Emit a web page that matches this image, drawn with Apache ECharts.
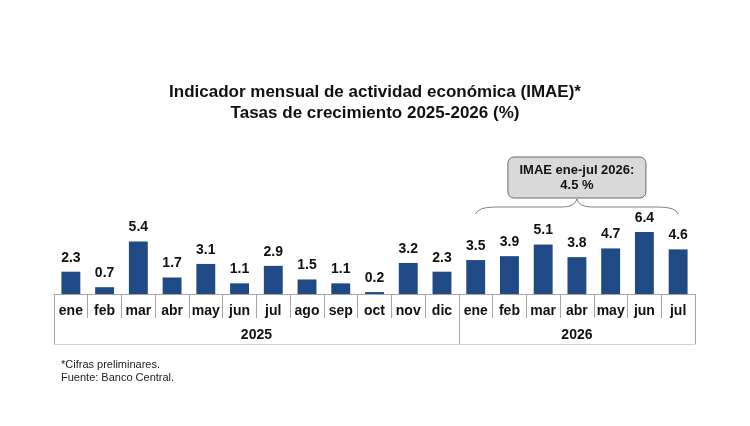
<!DOCTYPE html>
<html>
<head>
<meta charset="utf-8">
<script src="https://cdn.jsdelivr.net/npm/echarts@6/dist/echarts.min.js"></script>
<style>
  html, body { margin: 0; padding: 0; background: #fff; }
  #main { width: 750px; height: 426px; }
</style>
</head>
<body>
<div id="main"></div>
<script>
// datos
const months = ['ene', 'feb', 'mar', 'abr', 'may', 'jun', 'jul', 'ago', 'sep', 'oct', 'nov', 'dic']
const years = ['2025', '2026']
const monthsPerYear = [12, 7]
const values2025 = [2.3, 0.7, 5.4, 1.7, 3.1, 1.1, 2.9, 1.5, 1.1, 0.2, 3.2, 2.3]
const values2026 = [3.5, 3.9, 5.1, 3.8, 4.7, 6.4, 4.6]
const noteText = ['IMAE ene-jul 2026:', '4.5 %']

const FONT = 'Liberation Sans, Arial, sans-serif'

// categorías de meses (eje de abajo)
const categories = []
monthsPerYear.forEach(n => { for (let i = 0; i < n; i++) categories.push(months[i]) })
const values = values2025.concat(values2026)

// eje de años: un punto cada medio mes, etiqueta en el centro de cada año
const yearAxisData = new Array(categories.length * 2 + 1).fill('')
const yearBounds = [0]
let start = 0
monthsPerYear.forEach((n, i) => {
  yearAxisData[start + n] = years[i]
  start += n * 2
  yearBounds.push(start)
})

const option = {
  animation: false,
  title: [{
    text: 'Indicador mensual de actividad económica (IMAE)*\nTasas de crecimiento 2025-2026 (%)',
    left: 'center',
    top: 77,
    textStyle: { fontFamily: FONT, fontSize: 17, fontWeight: 'bold', color: '#111', lineHeight: 21 }
  }, {
    text: '*Cifras preliminares.\nFuente: Banco Central.',
    left: 56,
    top: 353,
    textStyle: { fontFamily: FONT, fontSize: 11, fontWeight: 'normal', color: '#222', lineHeight: 13 }
  }],
  grid: { left: 54, right: 55, top: 197, bottom: 132 },
  xAxis: [{
    type: 'category',
    data: categories,
    position: 'bottom',
    axisLine: { lineStyle: { color: '#a6a6a6', width: 1 } },
    axisTick: { show: true, interval: 0, length: 24, lineStyle: { color: '#a6a6a6' } },
    axisLabel: { interval: 0, margin: 10, fontFamily: FONT, fontSize: 14, fontWeight: 'bold', color: '#111' }
  }, {
    type: 'category',
    data: yearAxisData,
    boundaryGap: false,
    position: 'bottom',
    offset: 50,
    axisLine: { lineStyle: { color: '#d4d4d4', width: 1 } },
    axisTick: {
      show: true,
      inside: true,
      length: 50,
      interval: (idx) => yearBounds.indexOf(idx) >= 0,
      lineStyle: { color: '#a6a6a6' }
    },
    axisLabel: { interval: 0, inside: true, margin: 2, fontFamily: FONT, fontSize: 14, fontWeight: 'bold', color: '#111' }
  }],
  yAxis: { type: 'value', min: 0, max: 10, show: false },
  series: [{
    type: 'bar',
    data: values,
    barWidth: '56%',
    itemStyle: { color: '#1F4A86' },
    label: {
      show: true,
      position: 'top',
      distance: 7,
      fontFamily: FONT,
      fontSize: 14,
      fontWeight: 'bold',
      color: '#111',
      formatter: (p) => p.value.toFixed(1)
    }
  }]
}

const chart = echarts.init(document.getElementById('main'))
chart.setOption(option)

// llave y recuadro sobre los meses de 2026
const x0 = chart.convertToPixel({ xAxisIndex: 0 }, monthsPerYear[0])
const x1 = chart.convertToPixel({ xAxisIndex: 0 }, categories.length - 1)
const xm = (x0 + x1) / 2
const yb = 207
const braceStyle = { fill: null, stroke: '#808080', lineWidth: 1 }
const curve = (ax, ay, cx, cy, bx, by) => ({
  type: 'bezierCurve',
  shape: { x1: ax, y1: ay, cpx1: cx, cpy1: cy, x2: bx, y2: by },
  style: braceStyle
})
const seg = (ax, bx) => ({
  type: 'line',
  shape: { x1: ax, y1: yb, x2: bx, y2: yb },
  style: braceStyle
})

chart.setOption({
  graphic: [
    curve(x0, yb + 7, x0 + 2, yb, x0 + 20, yb),
    seg(x0 + 20, xm - 15),
    curve(xm - 15, yb, xm - 2, yb, xm, yb - 8),
    curve(xm, yb - 8, xm + 2, yb, xm + 15, yb),
    seg(xm + 15, x1 - 20),
    curve(x1 - 20, yb, x1 - 2, yb, x1, yb + 7),
    {
      type: 'rect',
      shape: { x: xm - 69, y: 157, width: 138, height: 41, r: 6 },
      style: { fill: '#d9d9d9', stroke: '#6b6b6b', lineWidth: 1 }
    }, {
      type: 'text',
      x: xm,
      y: 178,
      style: {
        text: noteText.join('\n'),
        align: 'center',
        verticalAlign: 'middle',
        fontFamily: FONT,
        fontSize: 13,
        fontWeight: 'bold',
        lineHeight: 15,
        fill: '#111'
      }
    }
  ]
})
</script>
</body>
</html>
